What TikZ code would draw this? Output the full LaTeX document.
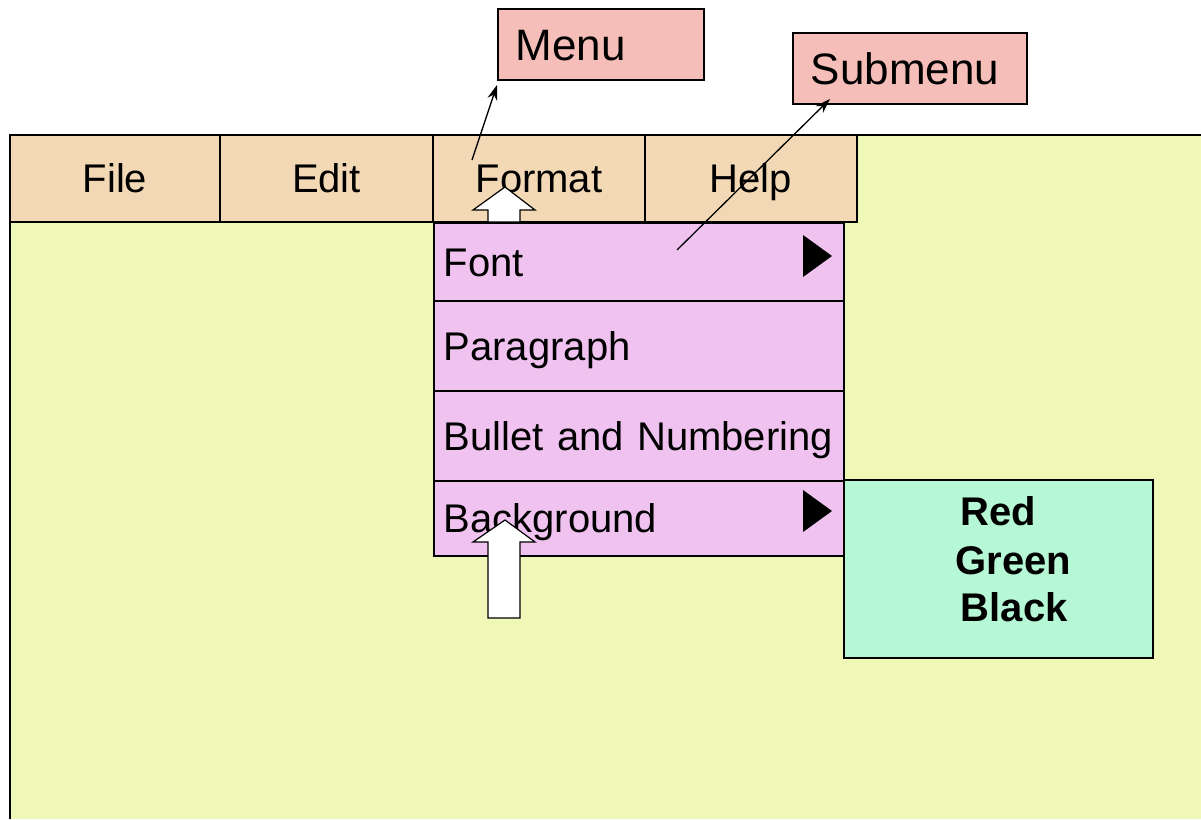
\documentclass[tikz,border=0pt]{standalone}
\usepackage{fontspec}
\setmainfont{Liberation Sans}
\usetikzlibrary{arrows.meta}
\definecolor{bgyellow}{HTML}{EFF8B6}
\definecolor{bartan}{HTML}{F2D8B4}
\definecolor{droppink}{HTML}{F0C2F0}
\definecolor{labelpink}{HTML}{F6BEB8}
\definecolor{mintbox}{HTML}{B6F8D6}
\begin{document}
\begin{tikzpicture}[x=1pt,y=-1pt,line width=1.5pt,
  txt/.style={font=\fontsize{40}{48}\selectfont},
  cell/.style={draw, fill=bartan, txt, inner sep=0pt, minimum height=87pt, text height=28.6pt, text depth=0pt},
  row/.style={draw, fill=droppink, txt, anchor=north west, minimum width=410pt, inner xsep=10pt, inner ysep=0pt, text width=390pt, align=left, text height=28.6pt, text depth=0pt},
  callout/.style={draw, fill=labelpink, anchor=north west, font=\fontsize{44}{52}\selectfont, inner xsep=18pt, inner ysep=0pt, align=left, text height=31.5pt, text depth=0pt},
  colitem/.style={font=\fontsize{40}{48}\bfseries\selectfont, anchor=west, inner sep=0pt, text height=28.6pt, text depth=0pt},
  blockarrow/.style={draw, fill=white, line width=1.2pt, line join=miter},
  pointer/.style={line width=1.3pt, -{Stealth[length=15pt,width=10pt]}},
  submark/.style={fill=black, draw=none}]
\useasboundingbox (0,0) rectangle (1201,819);
% working area
\fill[bgyellow] (10,135) rectangle (1201,819);
\draw[line width=2pt] (10,819) -- (10,135) -- (1201,135);
% menu bar
\node[cell, minimum width=210pt] (file) at (115,178.5) {File};
\node[cell, minimum width=213pt] (edit) at (326.5,178.5) {Edit};
\node[cell, minimum width=212pt] (format) at (539,178.5) {Format};
\node[cell, minimum width=212pt] (help) at (751,178.5) {Help};
% format arrow (behind dropdown)
\draw[blockarrow] (488,222) -- (488,210) -- (473,210) -- (505,187) -- (535,210) -- (520,210) -- (520,222) -- cycle;
% dropdown
\node[row, minimum height=78pt] (font) at (433,222) {Font};
\node[row, minimum height=90pt] (para) at (433,300) {Paragraph};
\node[row, minimum height=90pt] (bullet) at (433,390) {Bullet and Numbering};
\node[row, minimum height=75pt] (backg) at (433,480) {Background};
\fill[submark] (803,235) -- (832,256) -- (803,277) -- cycle;
\fill[submark] (803,490) -- (832,511) -- (803,532) -- cycle;
% colour submenu
\node[draw, fill=mintbox, anchor=north west, minimum width=309pt, minimum height=178pt, inner sep=0pt] (colors) at (843,479) {};
\node[colitem] (red) at (960,511) {Red};
\node[colitem] (green) at (955,560) {Green};
\node[colitem] (black) at (960,607) {Black};
% background arrow
\draw[blockarrow] (488,618) -- (488,542) -- (473,542) -- (505,520) -- (535,542) -- (520,542) -- (520,618) -- cycle;
% callouts
\node[callout, minimum width=206pt, minimum height=71pt, text width=170pt] (menu) at (497,8) {Menu};
\node[callout, minimum width=234pt, minimum height=71pt, text width=198pt] (submenu) at (792,32) {Submenu};
\coordinate (menufrom) at (472,160);
\coordinate (menuto) at (497,85);
\coordinate (subfrom) at (677,250);
\coordinate (subto) at (830,99);
\draw[pointer] (menufrom) -- (menuto);
\draw[pointer] (subfrom) -- (subto);
\end{tikzpicture}
\end{document}
